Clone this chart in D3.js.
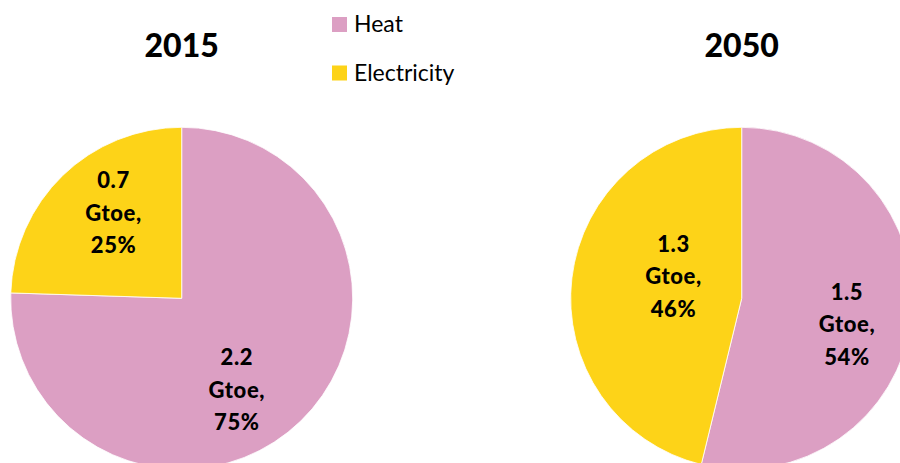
<!DOCTYPE html>
<html>
<head>
<meta charset="utf-8">
<script src="https://cdn.jsdelivr.net/npm/d3@7"></script>
<style>
  html, body { margin: 0; padding: 0; background: #fff; }
  svg { display: block; }
</style>
</head>
<body>
<svg id="chart" width="900" height="463"></svg>
<script>
// ---- data ----
const categories = ["Heat", "Electricity"];
const years = ["2015", "2050"];
const gtoe2015 = [2.2, 0.7];
const gtoe2050 = [1.5, 1.3];
const share2015 = [75.5, 24.5];   // slice sizes
const share2050 = [53.8, 46.2];
const pctLabels2015 = ["75%", "25%"];
const pctLabels2050 = ["54%", "46%"];

// ---- layout ----
const W = 900, H = 463;
const colors = d3.scaleOrdinal().domain(categories).range(["#DC9FC3", "#FDD318"]);
const fontFam = "Lato, 'Open Sans', sans-serif";
const R = 171;
const pies = [
  { year: years[0], cx: 181.7, cy: 298.3, share: share2015, gtoe: gtoe2015, pct: pctLabels2015,
    nudge: [[-20, 14], [7, -8]] },
  { year: years[1], cx: 741.7, cy: 298.3, share: share2050, gtoe: gtoe2050, pct: pctLabels2050,
    nudge: [[-2, 13], [39, -9]] }
];

const svg = d3.select("#chart");
const pie = d3.pie().sort(null).value(d => d.v);
const arc = d3.arc().innerRadius(0).outerRadius(R);
const labelArc = d3.arc().innerRadius(108).outerRadius(108);

pies.forEach(p => {
  const data = categories.map((c, i) => ({ c, v: p.share[i], g: p.gtoe[i], pct: p.pct[i], i }));
  const g = svg.append("g").attr("transform", `translate(${p.cx},${p.cy})`);
  const arcs = pie(data);
  g.selectAll("path").data(arcs).join("path")
    .attr("d", arc)
    .attr("fill", d => colors(d.data.c))
    .attr("stroke", "#fff")
    .attr("stroke-width", 0.8);

  arcs.forEach(a => {
    const [x, y] = labelArc.centroid(a);
    const n = p.nudge[a.data.i];
    const lx = x + n[0], ly = y + n[1];
    const lines = [d3.format(".1f")(a.data.g), "Gtoe,", a.data.pct];
    const t = g.append("text")
      .attr("text-anchor", "middle")
      .attr("font-family", fontFam)
      .attr("font-weight", "900")
      .attr("font-size", 22)
      .attr("letter-spacing", 0.6)
      .attr("fill", "#000");
    lines.forEach((ln, k) => {
      t.append("tspan").attr("x", lx).attr("y", ly + (k - 1) * 32.5 + 8).text(ln);
    });
  });

  svg.append("text")
    .attr("x", p.cx).attr("y", 57)
    .attr("text-anchor", "middle")
    .attr("font-family", fontFam)
    .attr("font-weight", "900")
    .attr("font-size", 32)
    .attr("fill", "#000")
    .text(p.year);
});

// legend
const leg = svg.append("g");
categories.forEach((c, i) => {
  const y0 = 17 + i * 48.5;
  leg.append("rect").attr("x", 332).attr("y", y0).attr("width", 15).attr("height", 15)
    .attr("fill", colors(c));
  leg.append("text").attr("x", 354).attr("y", y0 + 15)
    .attr("font-family", fontFam).attr("font-size", 23).attr("fill", "#000")
    .text(c);
});
</script>
</body>
</html>
